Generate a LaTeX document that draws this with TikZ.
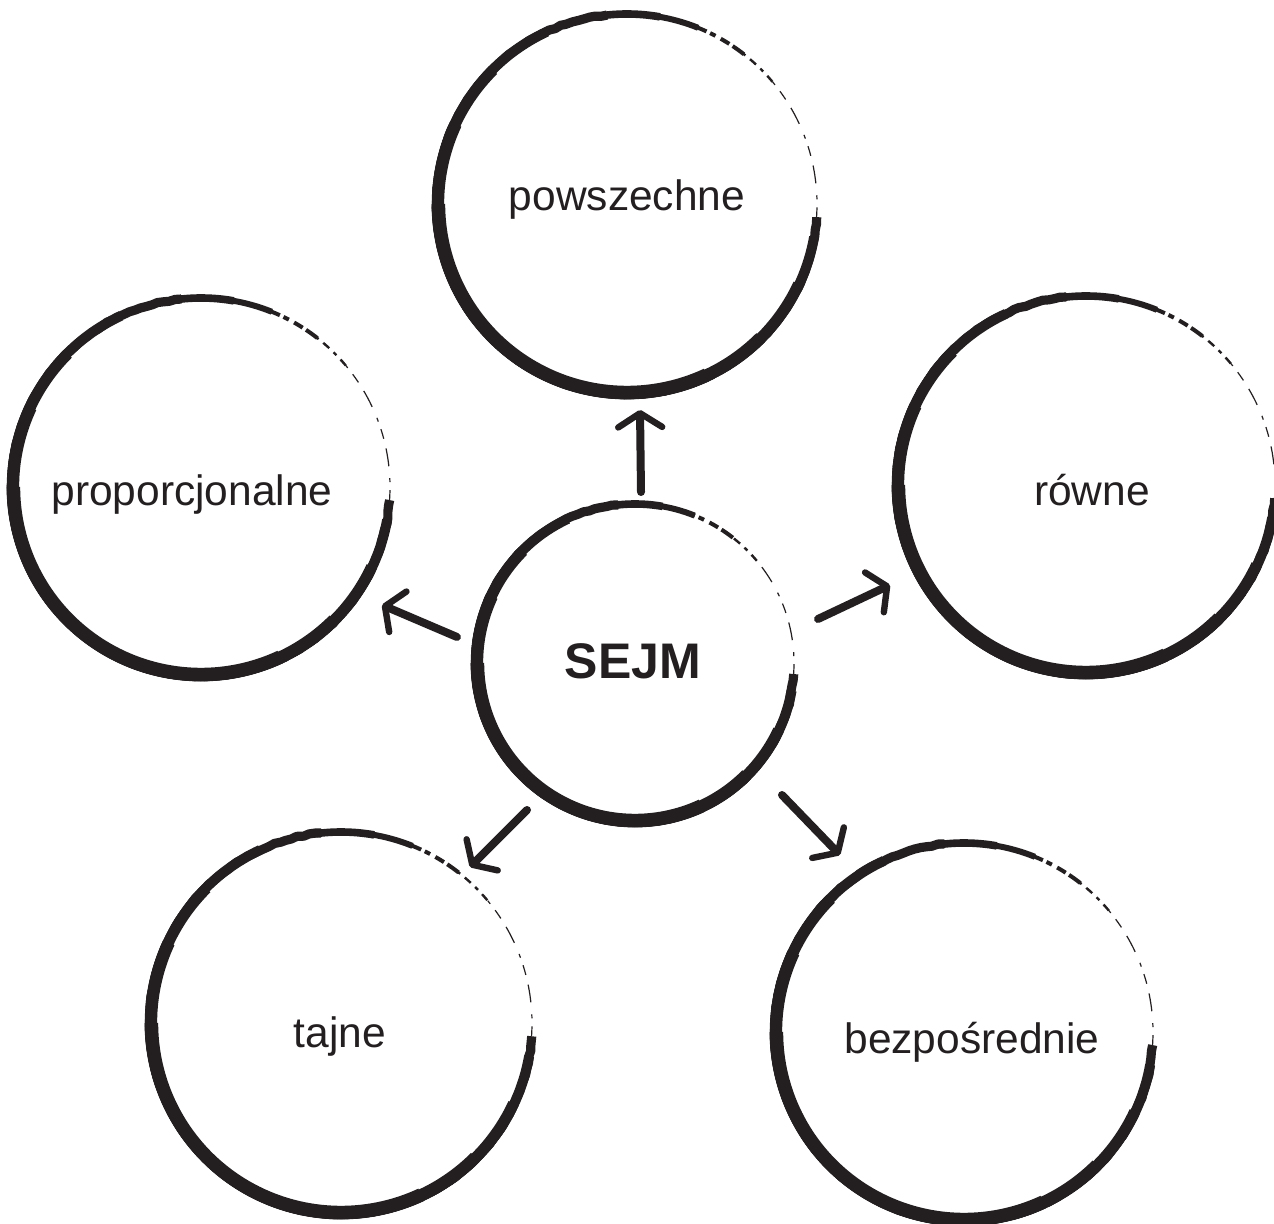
\documentclass[tikz,border=0pt]{standalone}
\usepackage{fontspec}
\setmainfont{Liberation Sans}
\usetikzlibrary{arrows.meta,calc,decorations.pathmorphing}
\definecolor{ink}{HTML}{231F20}
\tikzset{
  lbl/.style={text=ink, font=\fontsize{21.25}{25}\selectfont, inner sep=0pt},
  lblbold/.style={text=ink, font=\fontsize{25}{30}\selectfont\bfseries, inner sep=0pt},
  arr/.style={draw=ink, line width=4pt, line cap=round, line join=round,
    -{Straight Barb[length=7pt, width=22pt, line width=3.2pt, round]}},
  rough/.style={draw=ink, line join=round, decorate,
    decoration={random steps, segment length=3pt, amplitude=0.35pt}},
}
\newcommand{\skring}[4]{%
  \coordinate (#1) at (#2,#3);
  \draw[rough, line width=4.6pt] (#1) ++(96:#4) arc[start angle=96, end angle=356, radius=#4];
  \draw[ink, line width=5pt] (#1) ++(115:#4) arc[start angle=115, end angle=350, radius=#4];
  \draw[ink, line width=5.6pt] (#1) ++(135:#4-0.3pt) arc[start angle=135, end angle=335, radius=#4-0.3pt];
  \draw[ink, line width=6.2pt] (#1) ++(155:#4-0.5pt) arc[start angle=155, end angle=315, radius=#4-0.5pt];
  \draw[ink, line width=6.8pt] (#1) ++(180:#4-0.7pt) arc[start angle=180, end angle=295, radius=#4-0.7pt];
  \draw[ink, line width=3.8pt] (#1) ++(80:#4) arc[start angle=80, end angle=98, radius=#4];
  \draw[ink, line width=3pt] (#1) ++(68:#4) arc[start angle=68, end angle=81, radius=#4];
  \draw[ink, line width=2pt, dash pattern=on 7pt off 2pt on 5pt off 3pt on 3pt off 2pt] (#1) ++(52:#4) arc[start angle=52, end angle=69, radius=#4];
  \draw[ink, line width=1.2pt, dash pattern=on 4pt off 3pt on 2pt off 3pt] (#1) ++(40:#4) arc[start angle=40, end angle=53, radius=#4];
  \draw[ink, line width=0.6pt, dash pattern=on 5pt off 4pt on 2pt off 6pt on 9pt off 5pt] (#1) ++(-4:#4) arc[start angle=-4, end angle=41, radius=#4];
}
\begin{document}
\begin{tikzpicture}[x=0.5pt, y=0.5pt]
\useasboundingbox (0,0) rectangle (1274,1223);
% circles
\skring{pow}{627}{1019}{95pt}
\skring{prop}{201}{736}{94.5pt}
\skring{row}{1086}{738}{94.5pt}
\skring{sejm}{635}{560}{79.5pt}
\skring{taj}{341}{200}{95.5pt}
\skring{bez}{964}{191}{94.5pt}
% labels
\node[lbl] (powtxt) at (627,1023) {powszechne};
\node[lbl] (proptxt) at (192,728) {proporcjonalne};
\node[lbl] (rowtxt) at (1092,733) {równe};
\node[lblbold] (sejmtxt) at (633,562) {SEJM};
\node[lbl] (tajtxt) at (340,186) {tajne};
\node[lbl] (beztxt) at (972,181) {bezpośrednie};
% arrow ends
\coordinate (a1s) at (641,731); \coordinate (a1e) at (640,813);
\coordinate (a2s) at (818,604); \coordinate (a2e) at (890,638);
\coordinate (a3s) at (457,586); \coordinate (a3e) at (382,618);
\coordinate (a4s) at (527,413); \coordinate (a4e) at (470,356);
\coordinate (a5s) at (782,428); \coordinate (a5e) at (840,368);
\draw[arr] (a1s) -- (a1e);
\draw[arr] (a2s) -- (a2e);
\draw[arr] (a3s) -- (a3e);
\draw[arr] (a4s) -- (a4e);
\draw[arr] (a5s) -- (a5e);
\end{tikzpicture}
\end{document}
